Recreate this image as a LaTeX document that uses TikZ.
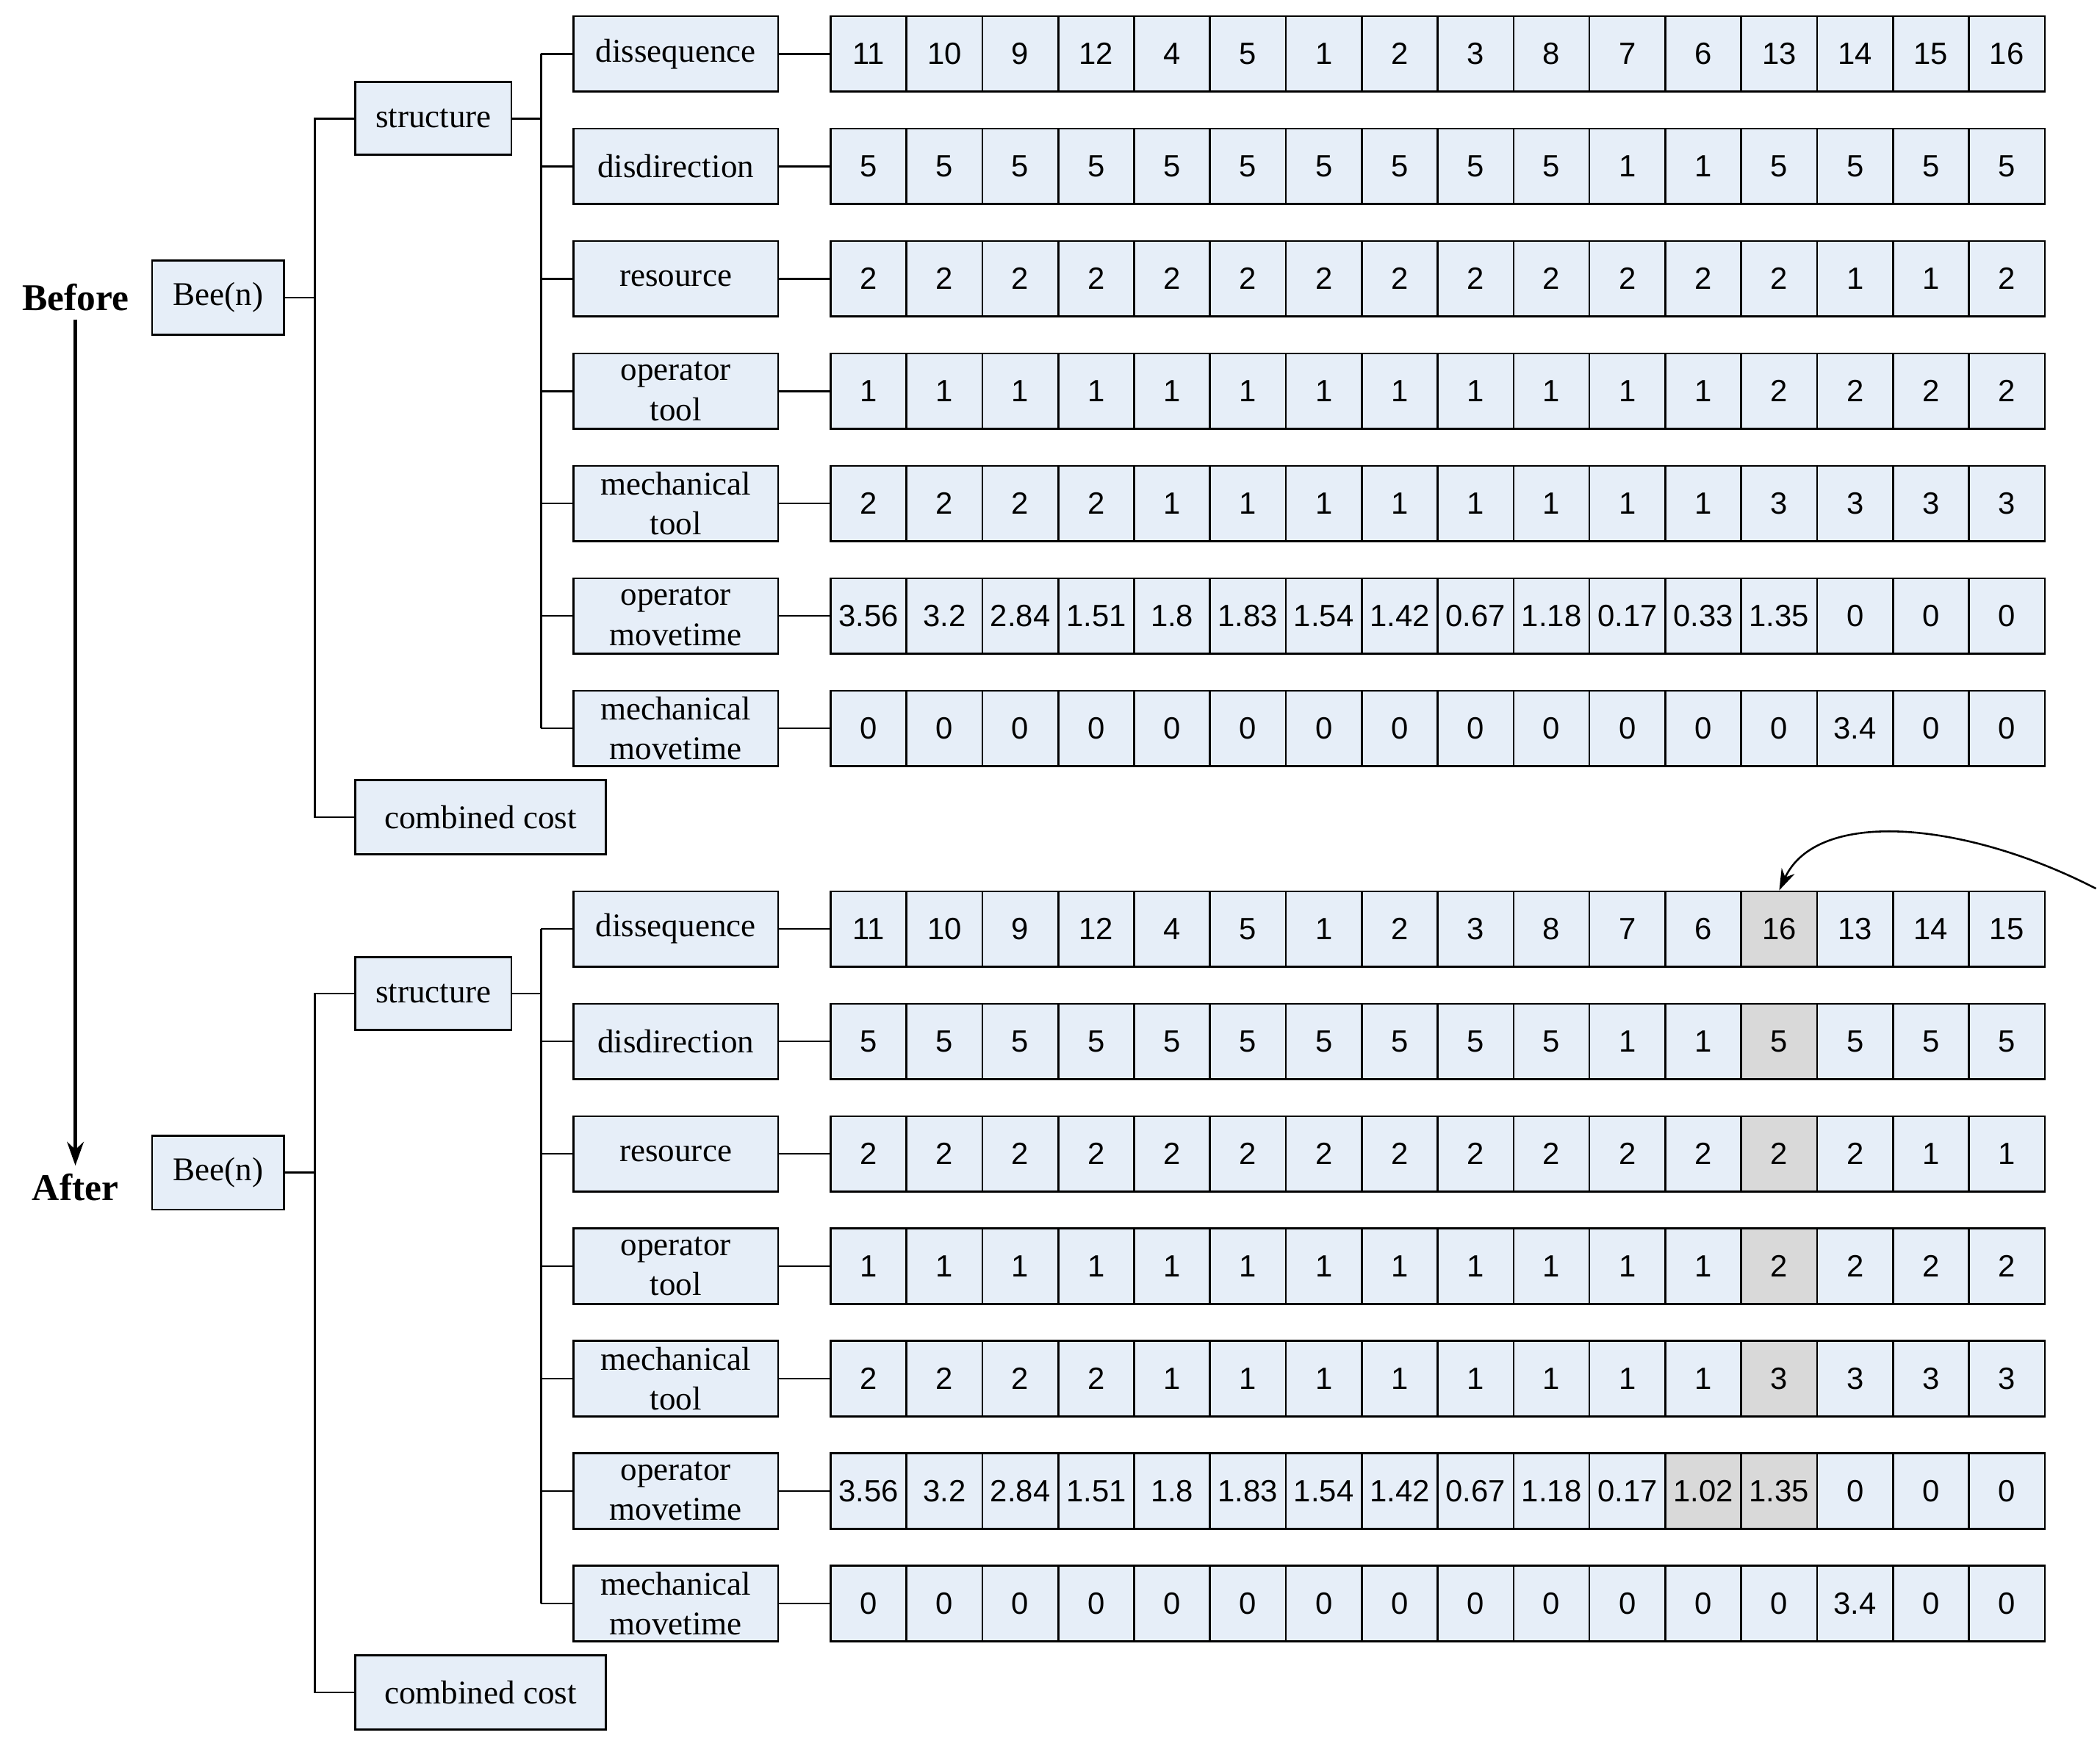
\documentclass[tikz,border=0pt]{standalone}
\usepackage{fontspec}
\setmainfont{Liberation Serif}
\newfontfamily\numfont{Liberation Sans}
\usetikzlibrary{arrows.meta}
\definecolor{boxblue}{HTML}{E6EEF8}
\definecolor{hlgray}{HTML}{D9D9D9}
\tikzset{
  box/.style={draw=black,fill=boxblue,line width=0.8pt,inner sep=0pt,align=center,font=\fontsize{14}{17}\selectfont},
  lab/.style={box,minimum width=3.04cm,minimum height=1.12cm},
  cell/.style={draw=black,fill=boxblue,line width=0.8pt,inner sep=0pt,minimum width=1.128cm,minimum height=1.12cm,font=\numfont\fontsize{13}{15}\selectfont},
  conn/.style={line width=0.8pt},
  cB-0-13/.style={fill=hlgray},cB-1-13/.style={fill=hlgray},cB-2-13/.style={fill=hlgray},
  cB-3-13/.style={fill=hlgray},cB-4-13/.style={fill=hlgray},cB-5-13/.style={fill=hlgray},
  cB-5-12/.style={fill=hlgray},
}
\newcommand{\mycellrow}[4]{%
  \foreach \v [count=\k] in {#4} {
    \node[cell,c#1-#2-\k/.try] (c#1-#2-\k) at ({617+56.375*(\k-0.5)},#3) {\v};
  }
}
\newcommand{\mysection}[2]{% #1 tag, #2 y offset
  \begin{scope}[yshift={-#2*0.02cm}]
  \node[box,minimum width=1.96cm,minimum height=1.1cm] (bee#1) at (162,221) {Bee(n)};
  \node[box,minimum width=2.32cm,minimum height=1.08cm] (st#1) at (322,88) {structure};
  \node[box,minimum width=3.72cm,minimum height=1.1cm] (cc#1) at (357,607) {combined cost};
  \coordinate (ba#1) at (234,88);
  \coordinate (bb#1) at (402,40);
  \foreach \t [count=\r from 0] in {dissequence,disdirection,resource,operator\\tool,mechanical\\tool,operator\\movetime,mechanical\\movetime} {
    \node[lab] (l#1-\r) at (502,{40+83.5*\r}) {\t};
    \draw[conn] (l#1-\r.west) -- (l#1-\r.west -| bb#1);
    \draw[conn] (l#1-\r.east) -- (617,{40+83.5*\r});
  }
  \draw[conn] (l#1-0.west -| bb#1) -- (l#1-6.west -| bb#1);
  \draw[conn] (st#1.east) -- (st#1.east -| bb#1);
  \draw[conn] (bee#1.east) -- (bee#1.east -| ba#1);
  \draw[conn] (st#1.west) -- (ba#1) -- (cc#1.west -| ba#1) -- (cc#1.west);
  \end{scope}
}
\begin{document}
\begin{tikzpicture}[x=0.02cm,y=-0.02cm]
\useasboundingbox (0,0) rectangle (1560,1299);
\mysection{A}{0}
\mysection{B}{650}
% top rows
\mycellrow{A}{0}{40}{11,10,9,12,4,5,1,2,3,8,7,6,13,14,15,16}
\mycellrow{A}{1}{123.5}{5,5,5,5,5,5,5,5,5,5,1,1,5,5,5,5}
\mycellrow{A}{2}{207}{2,2,2,2,2,2,2,2,2,2,2,2,2,1,1,2}
\mycellrow{A}{3}{290.5}{1,1,1,1,1,1,1,1,1,1,1,1,2,2,2,2}
\mycellrow{A}{4}{374}{2,2,2,2,1,1,1,1,1,1,1,1,3,3,3,3}
\mycellrow{A}{5}{457.5}{3.56,3.2,2.84,1.51,1.8,1.83,1.54,1.42,0.67,1.18,0.17,0.33,1.35,0,0,0}
\mycellrow{A}{6}{541}{0,0,0,0,0,0,0,0,0,0,0,0,0,3.4,0,0}
% bottom rows
\mycellrow{B}{0}{690}{11,10,9,12,4,5,1,2,3,8,7,6,16,13,14,15}
\mycellrow{B}{1}{773.5}{5,5,5,5,5,5,5,5,5,5,1,1,5,5,5,5}
\mycellrow{B}{2}{857}{2,2,2,2,2,2,2,2,2,2,2,2,2,2,1,1}
\mycellrow{B}{3}{940.5}{1,1,1,1,1,1,1,1,1,1,1,1,2,2,2,2}
\mycellrow{B}{4}{1024}{2,2,2,2,1,1,1,1,1,1,1,1,3,3,3,3}
\mycellrow{B}{5}{1107.5}{3.56,3.2,2.84,1.51,1.8,1.83,1.54,1.42,0.67,1.18,0.17,1.02,1.35,0,0,0}
\mycellrow{B}{6}{1191}{0,0,0,0,0,0,0,0,0,0,0,0,0,3.4,0,0}
% before / after
\node[font=\bfseries\fontsize{16}{19}\selectfont] (before) at (56,221) {Before};
\node[font=\bfseries\fontsize{16}{19}\selectfont] (after) at (56,882) {After};
\draw[line width=1.6pt,-{Stealth[length=10pt,width=7pt]}] (before.south) -- (after.north);
% curved arrow
\coordinate (cstart) at (1557,660);
\draw[line width=0.8pt,-{Stealth[length=9pt,width=6pt]}] (cstart) .. controls (1460,610) and (1350,600) .. (cB-0-13.north);
\end{tikzpicture}
\end{document}
